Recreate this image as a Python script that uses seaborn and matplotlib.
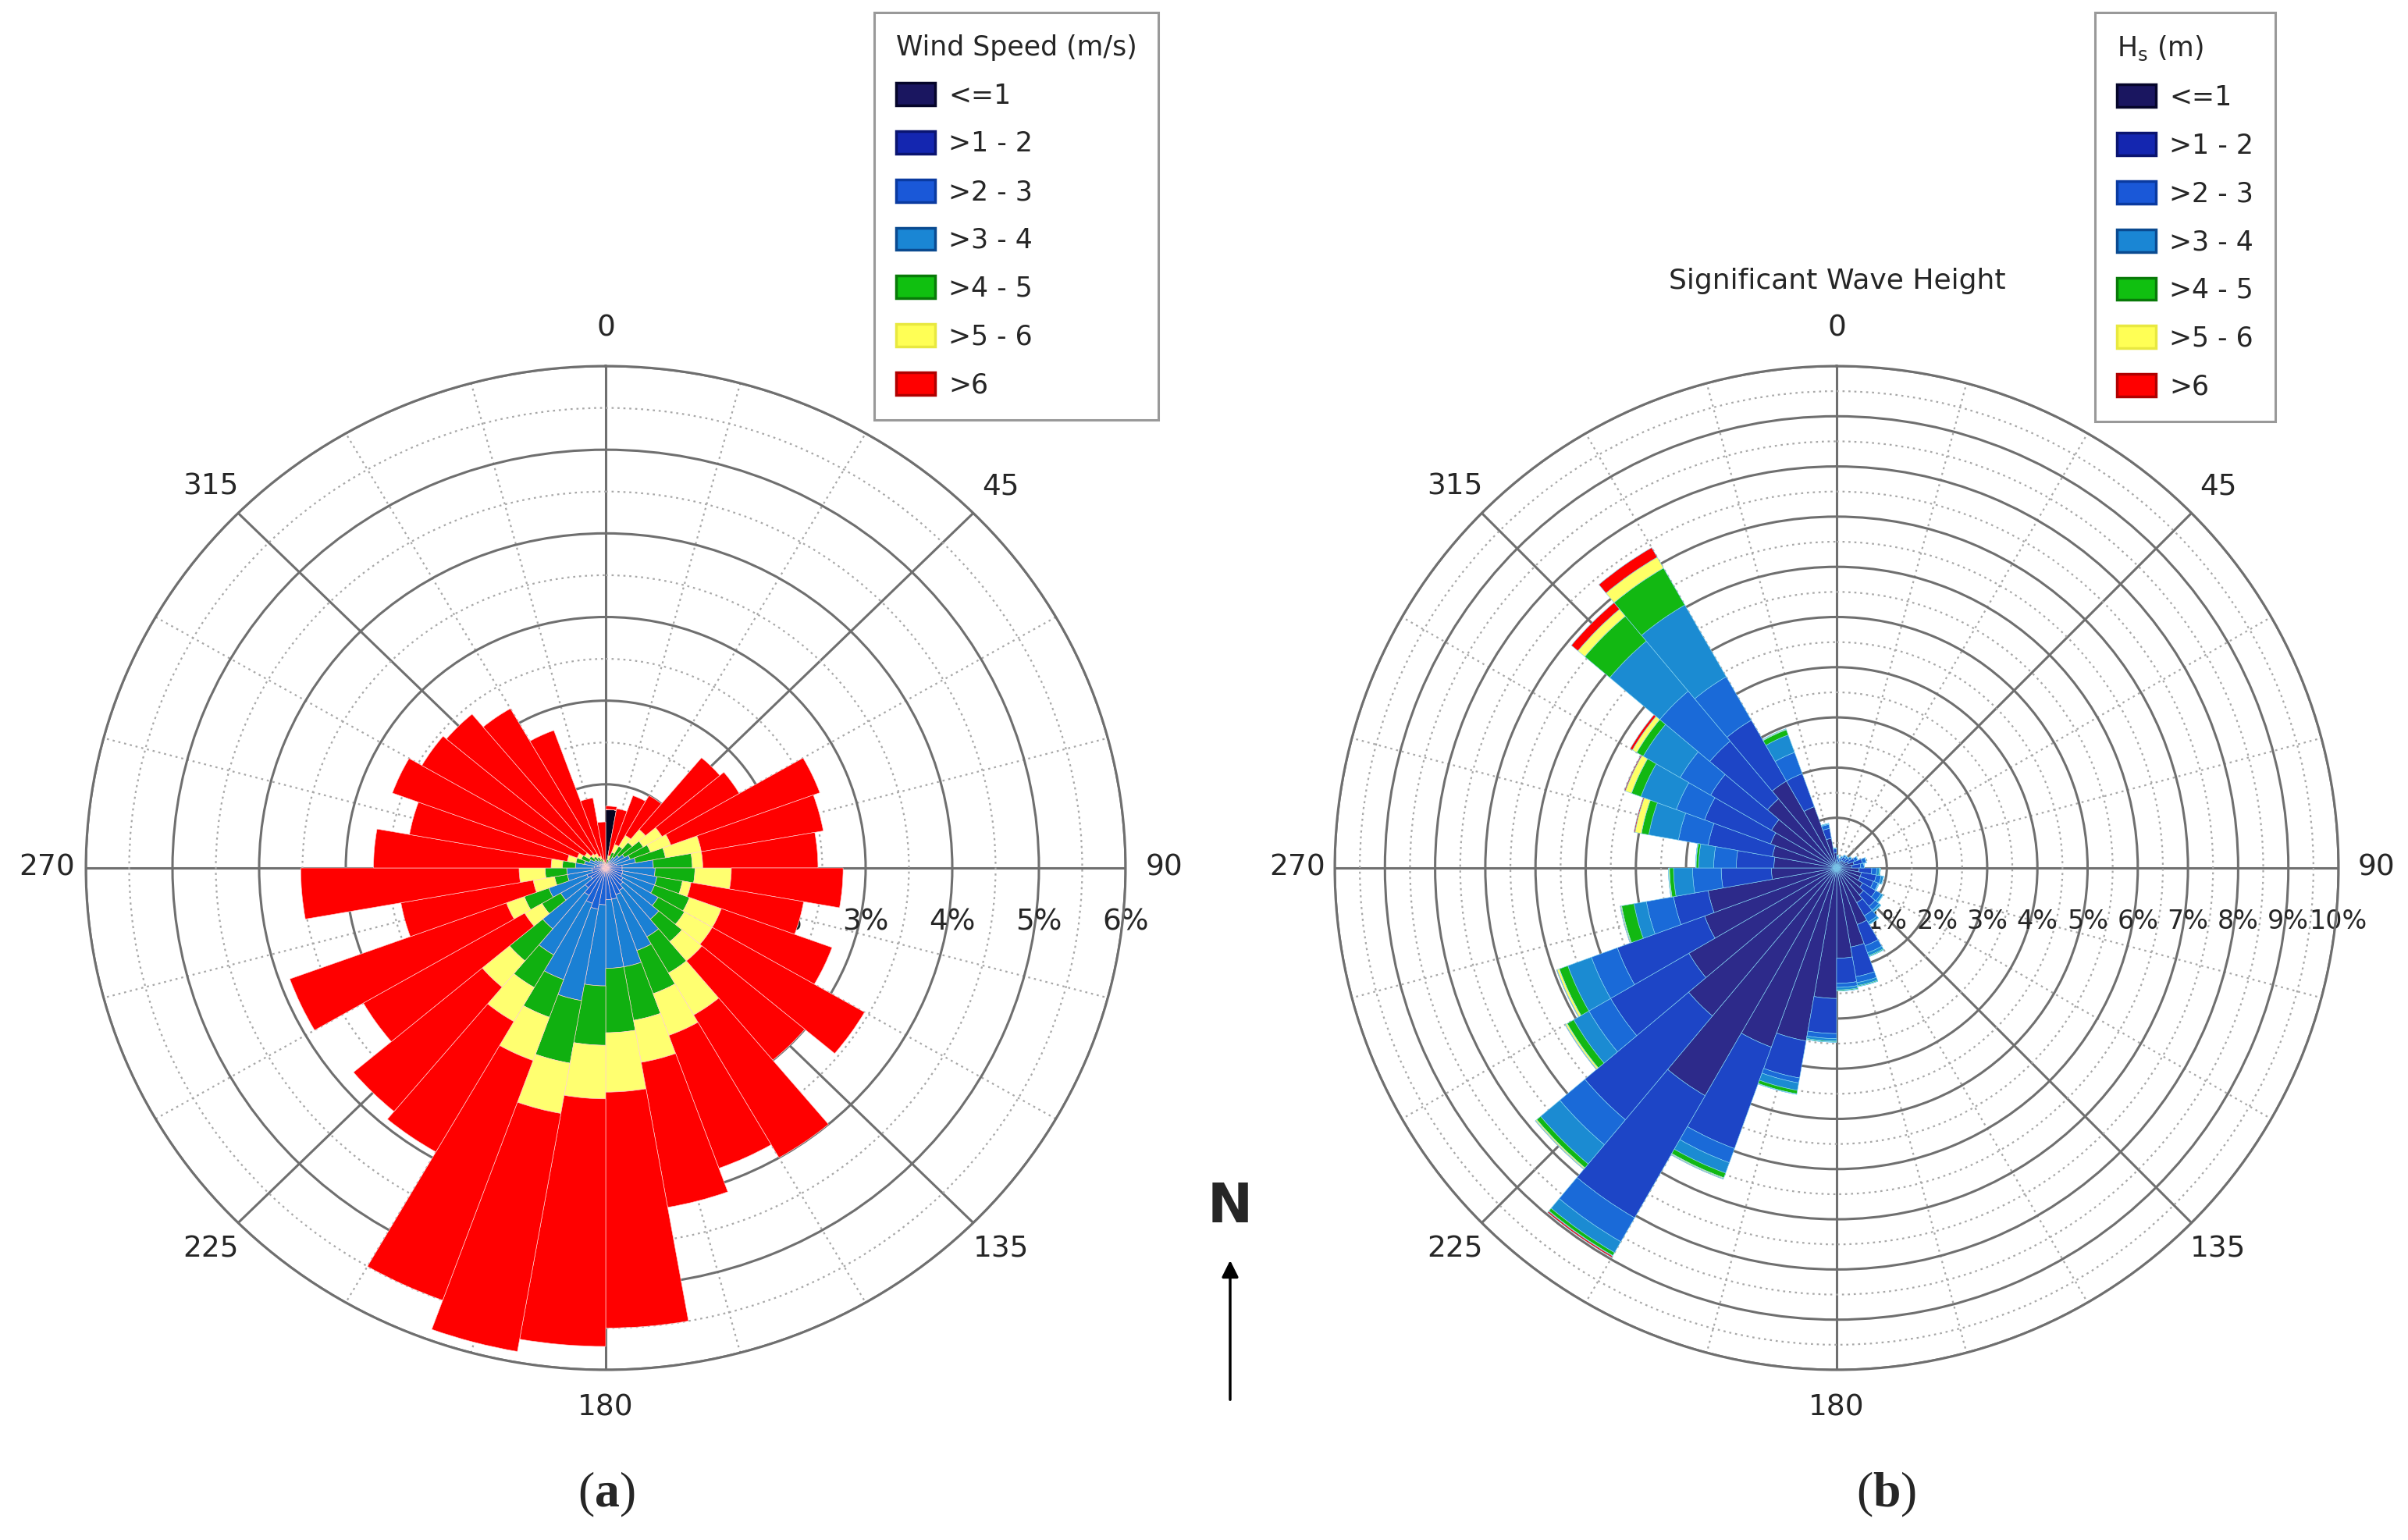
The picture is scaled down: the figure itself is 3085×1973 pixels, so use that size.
import numpy as np
import matplotlib
matplotlib.use("Agg")
import matplotlib.pyplot as plt
from matplotlib.patches import Patch, FancyArrowPatch
import seaborn as sns

# sector centres (deg, clockwise from north), 10 degree bins
sector_deg = np.arange(5, 360, 10)
bin_labels = ['<=1', '>1 - 2', '>2 - 3', '>3 - 4', '>4 - 5', '>5 - 6', '>6']

# (a) wind speed frequency (%) per sector and speed class
ws_le1 = [0.70, 0.01, 0.01, 0.01, 0.01, 0.01, 0.01, 0.01, 0.01, 0.01, 0.01, 0.01,
          0.01, 0.01, 0.01, 0.01, 0.01, 0.01, 0.01, 0.01, 0.01, 0.01, 0.01, 0.01,
          0.01, 0.01, 0.01, 0.01, 0.01, 0.01, 0.01, 0.01, 0.01, 0.01, 0.01, 0.01]
ws_1_2 = [0.00, 0.02, 0.02, 0.02, 0.02, 0.02, 0.02, 0.02, 0.02, 0.02, 0.02, 0.02,
          0.02, 0.02, 0.02, 0.02, 0.02, 0.02, 0.02, 0.02, 0.02, 0.02, 0.02, 0.02,
          0.02, 0.02, 0.02, 0.02, 0.02, 0.02, 0.02, 0.02, 0.02, 0.02, 0.02, 0.02]
ws_2_3 = [0.00, 0.01, 0.02, 0.04, 0.05, 0.07, 0.08, 0.10, 0.16, 0.16, 0.17, 0.17,
          0.20, 0.23, 0.28, 0.31, 0.35, 0.35, 0.41, 0.47, 0.42, 0.35, 0.28, 0.17,
          0.20, 0.13, 0.13, 0.10, 0.07, 0.05, 0.04, 0.03, 0.02, 0.02, 0.01, 0.00]
ws_3_4 = [0.00, 0.01, 0.05, 0.08, 0.12, 0.15, 0.19, 0.22, 0.36, 0.38, 0.40, 0.40,
          0.47, 0.54, 0.64, 0.71, 0.82, 0.82, 0.97, 1.11, 0.97, 0.82, 0.64, 0.40,
          0.47, 0.29, 0.29, 0.22, 0.15, 0.12, 0.08, 0.06, 0.05, 0.03, 0.01, 0.00]
ws_4_5 = [0.00, 0.05, 0.10, 0.15, 0.20, 0.25, 0.25, 0.35, 0.45, 0.46, 0.30, 0.43,
          0.35, 0.35, 0.50, 0.55, 0.65, 0.77, 0.71, 0.76, 0.48, 0.45, 0.50, 0.25,
          0.30, 0.15, 0.25, 0.15, 0.10, 0.10, 0.07, 0.06, 0.05, 0.04, 0.03, 0.02]
ws_5_6 = [0.00, 0.05, 0.10, 0.15, 0.20, 0.25, 0.25, 0.42, 0.12, 0.42, 0.10, 0.39,
          0.37, 0.30, 0.58, 0.53, 0.51, 0.71, 0.64, 0.61, 0.55, 0.47, 0.41, 0.23,
          0.22, 0.25, 0.30, 0.13, 0.10, 0.05, 0.06, 0.04, 0.05, 0.03, 0.02, 0.02]
ws_gt6 = [0.04, 0.57, 0.62, 0.55, 1.12, 1.03, 1.83, 1.43, 1.33, 1.29, 1.32, 1.36,
          2.03, 1.55, 1.97, 1.69, 1.76, 2.82, 2.96, 2.89, 3.05, 1.80, 1.94, 2.15,
          2.66, 1.55, 2.52, 2.05, 1.85, 2.27, 2.17, 2.18, 2.00, 1.60, 0.75, 0.48]

# (b) significant wave height frequency (%) per sector and Hs class
hs_le1 = [0.15, 0.12, 0.15, 0.18, 0.18, 0.20, 0.25, 0.35, 0.30, 0.45, 0.50, 0.50,
          0.60, 0.70, 0.80, 1.20, 1.60, 1.80, 2.60, 3.50, 3.80, 5.24, 3.85, 3.40,
          2.80, 2.60, 1.30, 1.25, 1.30, 1.40, 1.50, 1.80, 2.00, 1.30, 0.60, 0.30]
hs_1_2 = [0.07, 0.06, 0.07, 0.08, 0.08, 0.10, 0.13, 0.17, 0.18, 0.25, 0.30, 0.28,
          0.30, 0.30, 0.30, 0.45, 0.60, 0.50, 0.70, 0.75, 2.15, 2.81, 2.70, 1.80,
          1.85, 0.70, 1.00, 0.75, 1.30, 1.40, 1.40, 1.50, 1.40, 0.70, 0.20, 0.08]
hs_2_3 = [0.03, 0.02, 0.03, 0.04, 0.04, 0.05, 0.07, 0.08, 0.07, 0.10, 0.10, 0.10,
          0.12, 0.10, 0.15, 0.15, 0.12, 0.08, 0.10, 0.10, 0.30, 0.55, 0.65, 0.50,
          0.55, 0.55, 0.57, 0.45, 0.60, 0.60, 0.70, 1.30, 1.00, 0.45, 0.08, 0.02]
hs_3_4 = [0.00, 0.00, 0.00, 0.00, 0.00, 0.00, 0.00, 0.00, 0.00, 0.05, 0.05, 0.02,
          0.05, 0.05, 0.05, 0.06, 0.06, 0.05, 0.05, 0.15, 0.22, 0.25, 0.50, 0.35,
          0.50, 0.25, 0.38, 0.30, 0.60, 0.75, 0.85, 1.30, 1.65, 0.37, 0.02, 0.00]
hs_4_5 = [0.00, 0.00, 0.00, 0.00, 0.00, 0.00, 0.00, 0.00, 0.00, 0.02, 0.00, 0.00,
          0.00, 0.00, 0.00, 0.02, 0.02, 0.02, 0.02, 0.07, 0.10, 0.07, 0.10, 0.15,
          0.18, 0.25, 0.08, 0.05, 0.15, 0.20, 0.15, 0.65, 0.85, 0.11, 0.00, 0.00]
hs_5_6 = [0.00, 0.00, 0.00, 0.00, 0.00, 0.00, 0.00, 0.00, 0.00, 0.00, 0.00, 0.00,
          0.00, 0.00, 0.00, 0.00, 0.00, 0.00, 0.00, 0.01, 0.02, 0.01, 0.03, 0.04,
          0.05, 0.02, 0.02, 0.01, 0.13, 0.13, 0.10, 0.18, 0.25, 0.02, 0.00, 0.00]
hs_gt6 = [0.00, 0.00, 0.00, 0.00, 0.00, 0.00, 0.00, 0.00, 0.00, 0.00, 0.00, 0.00,
          0.00, 0.00, 0.00, 0.00, 0.00, 0.00, 0.00, 0.00, 0.01, 0.03, 0.01, 0.01,
          0.01, 0.01, 0.00, 0.00, 0.02, 0.02, 0.05, 0.17, 0.22, 0.00, 0.00, 0.00]

sns.set_style("white")
plt.rcParams['font.family'] = ['DejaVu Sans']
plt.rcParams['mathtext.fontset'] = 'custom'
plt.rcParams['mathtext.rm'] = 'DejaVu Sans'
plt.rcParams['mathtext.bf'] = 'Liberation Serif:bold'

ws_colors = sns.color_palette(["#050520", "#0d2aa8", "#1862d6", "#1a80d4",
                               "#10b010", "#ffff70", "#ff0000"])
hs_colors = sns.color_palette(["#2d2a8a", "#1d45c6", "#1a6ad8", "#1b8bd2",
                               "#12b812", "#ffff66", "#ff0000"])
leg_colors = ["#1a1660", "#1426b0", "#1a58d8", "#1a86d4", "#10c010", "#ffff55", "#ff0000"]
leg_edges = ["#05052a", "#0a1470", "#0a3aa0", "#0a4a90", "#087a08", "#e8e840", "#b00000"]

W, H = 3085, 1973
fig = plt.figure(figsize=(W / 100, H / 100), dpi=100)


def rose(rect, series, colors, rmax, label_off, edge_c, pct_size):
    ax = fig.add_axes(rect, projection='polar')
    ax.set_aspect('auto')
    ax.set_theta_zero_location('N')
    ax.set_theta_direction(-1)
    theta = np.deg2rad(sector_deg)
    width = np.deg2rad(10)
    bottom = np.zeros(len(sector_deg))
    for vals, c in zip(series, colors):
        vals = np.asarray(vals)
        ax.bar(theta, vals, width=width, bottom=bottom, color=c,
               edgecolor=edge_c, linewidth=0.45, zorder=3)
        bottom = bottom + vals
    ax.set_ylim(0, rmax)
    ax.set_yticks(np.arange(1, rmax + 1))
    ax.set_yticks(np.arange(0.5, rmax, 1.0), minor=True)
    ax.set_xticks(np.deg2rad(np.arange(0, 360, 45)))
    minor = [d for d in range(0, 360, 15) if d % 45]
    ax.set_xticks(np.deg2rad(minor), minor=True)
    ax.set_xticklabels([])
    ax.set_yticklabels([])
    ax.tick_params(which='both', length=0)
    ax.grid(True, which='major', color='#6f6f6f', linewidth=2.2, linestyle='-')
    ax.grid(True, which='minor', color='#a8a8a8', linewidth=1.6,
            linestyle=(0, (1.2, 2.2)))
    ax.set_axisbelow(True)
    ax.spines['polar'].set_color('#6f6f6f')
    ax.spines['polar'].set_linewidth(2.2)
    for d in range(0, 360, 45):
        ax.text(np.deg2rad(d), rmax * 1.075, str(d), ha='center', va='center',
                fontsize=27, clip_on=False)
    for r in range(1, rmax + 1):
        ax.annotate(f'{r}%', xy=(np.pi / 2, r), xytext=(0, label_off),
                    textcoords='offset points', ha='center', va='center',
                    fontsize=pct_size, zorder=2)
    return ax


ax1 = rose([110 / W, 1 - 1755 / H, 1332 / W, 1286 / H],
           [ws_le1, ws_1_2, ws_2_3, ws_3_4, ws_4_5, ws_5_6, ws_gt6],
           ws_colors, 6, -50, '#ffd0d0', 27)
ax2 = rose([1710 / W, 1 - 1755 / H, 1286 / W, 1286 / H],
           [hs_le1, hs_1_2, hs_2_3, hs_3_4, hs_4_5, hs_5_6, hs_gt6],
           hs_colors, 10, -49, '#7fd0f0', 24)

fig.text(2354 / W, 1 - 360 / H, 'Significant Wave Height', ha='center',
         va='center', fontsize=26)


def add_legend(title, x0):
    handles = [Patch(facecolor=c, edgecolor=e, linewidth=2.5)
               for c, e in zip(leg_colors, leg_edges)]
    leg = fig.legend(handles, bin_labels, title=title, loc='upper left',
                     bbox_to_anchor=(x0 / W, 1 - 16 / H),
                     bbox_transform=fig.transFigure, frameon=True,
                     fancybox=False, edgecolor='#808080', fontsize=25,
                     title_fontsize=25, handlelength=1.45, handleheight=0.9,
                     handletextpad=0.5, labelspacing=0.8, borderpad=0.8,
                     borderaxespad=0, alignment='left')
    leg.get_frame().set_linewidth(2.2)
    return leg


add_legend('Wind Speed (m/s)', 1120)
add_legend(r'H$_\mathregular{s}$ (m)', 2684)

# north arrow
fig.text(1576 / W, 1 - 1547 / H, 'N', ha='center', va='center',
         fontsize=50, fontweight='bold')
arrow = FancyArrowPatch((1576 / W, 1 - 1796 / H), (1576 / W, 1 - 1612 / H),
                        transform=fig.transFigure, arrowstyle='-|>',
                        mutation_scale=32, linewidth=2.5, color='black')
fig.add_artist(arrow)

fig.text(777 / W, 1 - 1915 / H, r'($\mathbf{a}$)', ha='center', va='center',
         fontsize=46, family='Liberation Serif')
fig.text(2417 / W, 1 - 1915 / H, r'($\mathbf{b}$)', ha='center', va='center',
         fontsize=46, family='Liberation Serif')

fig.savefig('out.png', dpi=100, facecolor='white')
